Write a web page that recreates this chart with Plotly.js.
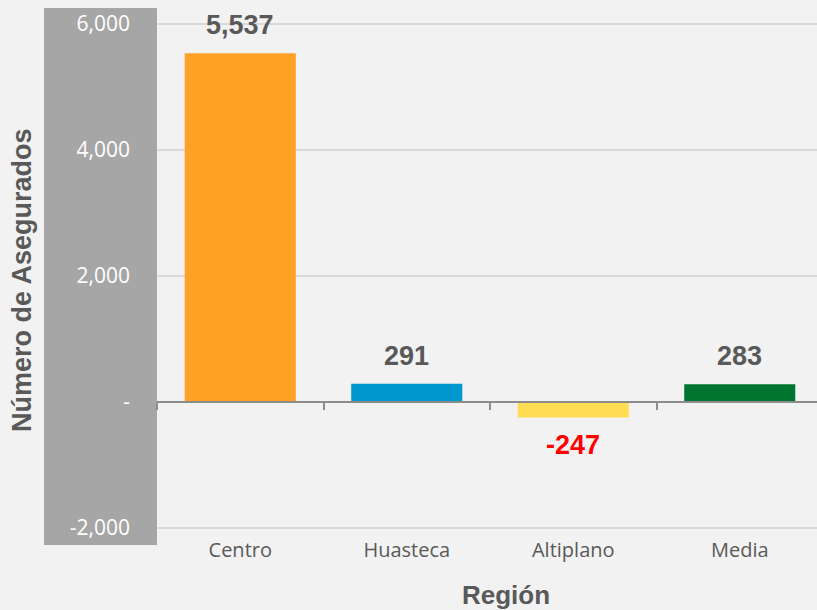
<!DOCTYPE html>
<html>
<head>
<meta charset="utf-8">
<script src="https://cdn.plot.ly/plotly-3.0.1.min.js"></script>
<style>html,body{margin:0;padding:0;background:#f2f2f2;}#chart{width:817px;height:610px;}</style>
</head>
<body>
<div id="chart"></div>
<script>
var categories = ['Centro', 'Huasteca', 'Altiplano', 'Media'];
var values = [5537, 291, -247, 283];
var barColors = ['#FFA124', '#0098CC', '#FFDC50', '#007530'];
var yTickVals = [-2000, 0, 2000, 4000, 6000];
var yTickText = ['-2,000', '-', '2,000', '4,000', '6,000'];

var boldFont = 'Arial, "Liberation Sans", sans-serif';
var regFont = '"Open Sans", sans-serif';

var labels = values.map(function (v, i) {
  return {
    x: categories[i], y: v, xref: 'x', yref: 'y',
    text: v.toLocaleString('en-US'),
    showarrow: false,
    yshift: v >= 0 ? 28 : -27,
    font: {family: boldFont, size: 27, color: v >= 0 ? '#595959' : '#FF0000', weight: 'bold'}
  };
});

labels.push({
  text: 'Número de Asegurados', xref: 'paper', yref: 'paper',
  x: -0.2045, y: 0.479, textangle: -90, showarrow: false,
  xanchor: 'center', yanchor: 'middle',
  font: {family: boldFont, size: 27, color: '#595959', weight: 'bold'}
});
labels.push({
  text: 'Región', xref: 'paper', yref: 'paper',
  x: 0.5288, y: -0.1245, showarrow: false,
  xanchor: 'center', yanchor: 'middle',
  font: {family: boldFont, size: 26, color: '#595959', weight: 'bold'}
});

var data = [
  {
    type: 'bar', x: categories, y: values,
    marker: {color: barColors}, hoverinfo: 'x+y', showlegend: false
  },
  {
    type: 'scatter', mode: 'markers', x: categories, y: values,
    xaxis: 'x2', yaxis: 'y', marker: {opacity: 0}, hoverinfo: 'skip', showlegend: false
  }
];

var xr = [-0.5, 3.464];
var layout = {
  width: 817, height: 610,
  margin: {l: 157, r: 0, t: 8, b: 80, pad: 0},
  paper_bgcolor: '#f2f2f2', plot_bgcolor: '#f2f2f2',
  bargap: 0.333,
  xaxis: {
    type: 'category', categoryorder: 'array', categoryarray: categories,
    range: xr, showgrid: false, zeroline: false, showline: false, ticks: '',
    ticklabelstandoff: 6,
    tickfont: {family: regFont, size: 20, color: '#595959'}
  },
  xaxis2: {
    type: 'category', categoryorder: 'array', categoryarray: categories,
    overlaying: 'x', anchor: 'free', position: 0.2452,
    range: xr, showgrid: false, zeroline: false,
    showline: true, linecolor: '#8c8c8c', linewidth: 2,
    ticks: 'outside', tickson: 'boundaries', ticklen: 7, tickwidth: 2, tickcolor: '#8c8c8c',
    showticklabels: false
  },
  yaxis: {
    range: [-2032, 6254],
    tickvals: yTickVals, ticktext: yTickText,
    showgrid: true, gridcolor: '#d9d9d9', gridwidth: 1.5,
    zeroline: true, zerolinecolor: '#8c8c8c', zerolinewidth: 2,
    showline: false, ticks: '',
    ticklabelstandoff: 26,
    tickfont: {family: regFont, size: 21, color: '#ffffff'}
  },
  shapes: [{
    type: 'rect', xref: 'paper', yref: 'paper',
    x0: -0.1712, x1: 0, y0: -0.0287, y1: 1,
    fillcolor: '#a6a6a6', line: {width: 0}, layer: 'below'
  }],
  annotations: labels
};

Plotly.newPlot('chart', data, layout, {displayModeBar: false, staticPlot: true});
</script>
</body>
</html>
